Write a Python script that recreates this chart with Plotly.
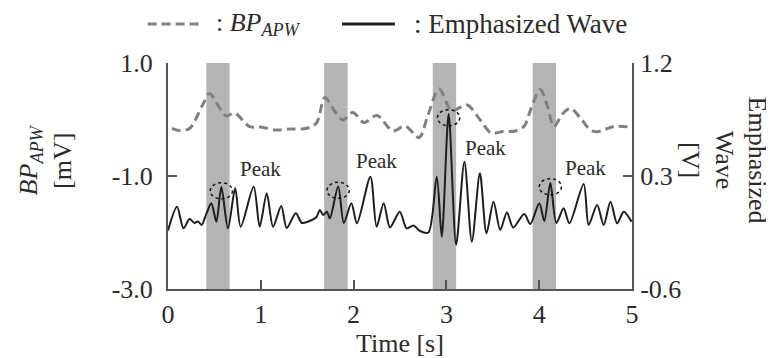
import plotly.graph_objects as go

# ---------------- data ----------------
# BP_APW (left axis, mV)
bp_time = [0.043, 0.124, 0.232, 0.373, 0.448, 0.535, 0.629, 0.718, 0.880, 0.999,
           1.161, 1.312, 1.496, 1.600, 1.690, 1.787, 1.884, 1.992, 2.111, 2.252,
           2.424, 2.554, 2.705, 2.802, 2.921, 3.051, 3.094, 3.224, 3.364, 3.483,
           3.612, 3.742, 3.839, 3.914, 4.012, 4.088, 4.158, 4.250, 4.336, 4.444,
           4.552, 4.627, 4.800, 4.995]
bp_value = [-0.159, -0.195, -0.159, 0.257, 0.460, 0.257, 0.062, 0.115, -0.127, -0.133,
            -0.186, -0.168, -0.156, -0.062, 0.389, 0.168, -0.009, 0.124, -0.053, 0.071,
            -0.204, -0.115, -0.319, 0.080, 0.540, 0.150, 0.168, 0.257, -0.009, -0.239,
            -0.212, -0.204, -0.115, 0.203, 0.531, 0.239, -0.124, 0.097, 0.198, 0.026,
            -0.186, -0.216, -0.127, -0.133]

# Emphasized wave (right axis, V)
ew_time = [0.000, 0.097, 0.167, 0.232, 0.286, 0.324, 0.362, 0.416, 0.467, 0.521,
           0.575, 0.646, 0.724, 0.783, 0.923, 0.988, 1.064, 1.132, 1.220, 1.280,
           1.377, 1.442, 1.506, 1.600, 1.636, 1.672, 1.712, 1.744, 1.834, 1.895,
           1.976, 2.036, 2.181, 2.248, 2.324, 2.392, 2.497, 2.572, 2.646, 2.716,
           2.806, 2.896, 2.950, 3.024, 3.105, 3.194, 3.274, 3.361, 3.432, 3.508,
           3.580, 3.652, 3.720, 3.839, 3.904, 4.001, 4.055, 4.120, 4.185, 4.263,
           4.325, 4.479, 4.533, 4.624, 4.695, 4.768, 4.840, 4.911, 4.995]
ew_value = [-0.134, 0.055, -0.117, -0.043, -0.074, -0.062, -0.090, 0.005, 0.083, -0.064,
            0.212, -0.117, 0.202, -0.104, 0.215, -0.104, 0.161, -0.104, 0.061, -0.114,
            0.003, -0.074, -0.064, -0.027, 0.029, -0.011, 0.016, -0.037, 0.216, -0.074,
            0.083, -0.077, 0.294, -0.104, 0.083, -0.110, 0.016, -0.117, -0.094, -0.138,
            -0.150, 0.294, -0.184, 0.794, -0.246, 0.414, -0.223, 0.321, -0.156, 0.095,
            -0.130, 0.009, -0.110, -0.003, -0.082, 0.083, -0.058, 0.244, -0.074, 0.043,
            -0.077, 0.236, -0.090, 0.069, -0.090, 0.095, -0.077, 0.016, -0.064]

# circled peaks (time, value on right axis)
peak_time = [0.575, 1.834, 3.024, 4.120]
peak_value = [0.212, 0.216, 0.794, 0.244]

# shaded intervals [s]
band_start = [0.413, 1.683, 2.853, 3.929]
band_end = [0.664, 1.935, 3.105, 4.181]

x_ticks = [0, 1, 2, 3, 4, 5]
x_ticktext = ["0", "1", "2", "3", "4", "5"]
y1_ticks = [-3.0, -1.0, 1.0]
y1_ticktext = ["-3.0", "-1.0", "1.0"]
y2_ticks = [-0.6, 0.3, 1.2]
y2_ticktext = ["-0.6", "0.3", "1.2"]

# ---------------- styles ----------------
FONT = "Liberation Serif, Times New Roman, serif"
TXT = "#2b2b2b"
AX = "#555555"

fig = go.Figure()
fig.add_trace(go.Scatter(x=bp_time, y=bp_value, mode="lines", yaxis="y",
                         line=dict(color="#808080", width=3, dash="9px,5px",
                                   shape="spline", smoothing=0.9),
                         showlegend=False, name="BP_APW"))
fig.add_trace(go.Scatter(x=ew_time, y=ew_value, mode="lines", yaxis="y2",
                         line=dict(color="#1e1e1e", width=2,
                                   shape="spline", smoothing=0.8),
                         showlegend=False, name="Emphasized Wave"))

shapes = []
for a, b in zip(band_start, band_end):
    shapes.append(dict(type="rect", xref="x", yref="paper", x0=a, x1=b, y0=0, y1=1,
                       fillcolor="#b4b4b4", line=dict(width=0), layer="below"))
for t, v in zip(peak_time, peak_value):
    shapes.append(dict(type="circle", xref="x", yref="y2",
                       x0=t - 0.12, x1=t + 0.12, y0=v - 0.03 - 0.064, y1=v - 0.03 + 0.064,
                       line=dict(color="#111111", width=1.5, dash="dot")))

# manual legend (paper coords)
LY = 1.173
shapes.append(dict(type="line", xref="paper", yref="paper", x0=-0.044, x1=0.072, y0=LY, y1=LY,
                   line=dict(color="#808080", width=3, dash="9px,5px")))
shapes.append(dict(type="line", xref="paper", yref="paper", x0=0.375, x1=0.489, y0=LY, y1=LY,
                   line=dict(color="#1e1e1e", width=3)))

annotations = [
    dict(text=": <i>BP</i><sub><i>APW</i></sub>", xref="paper", yref="paper", x=0.100, y=LY,
         xanchor="left", yanchor="middle", showarrow=False, font=dict(family=FONT, size=26, color=TXT)),
    dict(text=": Emphasized Wave", xref="paper", yref="paper", x=0.526, y=LY,
         xanchor="left", yanchor="middle", showarrow=False, font=dict(family=FONT, size=27, color=TXT)),
    dict(text="<i>BP</i><sub><i>APW</i></sub><br>[mV]", xref="paper", yref="paper", x=-0.262, y=0.571,
         xanchor="center", yanchor="middle", textangle=-90, showarrow=False,
         font=dict(family=FONT, size=26, color=TXT)),
    dict(text="Emphasized<br>Wave<br>[V]", xref="paper", yref="paper", x=1.197, y=0.571,
         xanchor="center", yanchor="middle", textangle=90, showarrow=False,
         font=dict(family=FONT, size=26, color=TXT)),
    dict(text="Time [s]", xref="paper", yref="paper", x=0.5, y=-0.239,
         xanchor="center", yanchor="middle", showarrow=False,
         font=dict(family=FONT, size=26, color=TXT)),
]
peak_label_pos = [(0.999, 0.356), (2.249, 0.419), (3.418, 0.523), (4.498, 0.364)]
for px_, py_ in peak_label_pos:
    annotations.append(dict(text="Peak", xref="x", yref="y2", x=px_, y=py_, showarrow=False,
                            xanchor="center", yanchor="middle",
                            font=dict(family=FONT, size=21, color=TXT)))

# page has an 8px body margin, so the figure is drawn 8px in from the top-left
fig.update_layout(
    width=766, height=350,
    margin=dict(l=160, r=142, t=55, b=69),
    paper_bgcolor="white", plot_bgcolor="white",
    font=dict(family=FONT, size=26, color=TXT),
    shapes=shapes, annotations=annotations,
    showlegend=False,
    xaxis=dict(range=[0, 5], tickvals=x_ticks, ticktext=x_ticktext, ticks="inside", ticklen=9,
               tickwidth=2, tickcolor=AX, showline=True, linecolor=AX, linewidth=2,
               showgrid=False, zeroline=False, ticklabelstandoff=1),
    yaxis=dict(range=[-3, 1], tickvals=y1_ticks, ticktext=y1_ticktext, ticks="inside", ticklen=9,
               tickwidth=2, tickcolor=AX, showline=True, linecolor=AX, linewidth=2,
               showgrid=False, zeroline=False, ticklabelstandoff=8),
    yaxis2=dict(range=[-0.6, 1.2], tickvals=y2_ticks, ticktext=y2_ticktext, ticks="inside", ticklen=9,
                tickwidth=2, tickcolor=AX, showline=True, linecolor=AX, linewidth=2,
                showgrid=False, zeroline=False, overlaying="y", side="right", ticklabelstandoff=1),
)

fig.write_html("out.html")
